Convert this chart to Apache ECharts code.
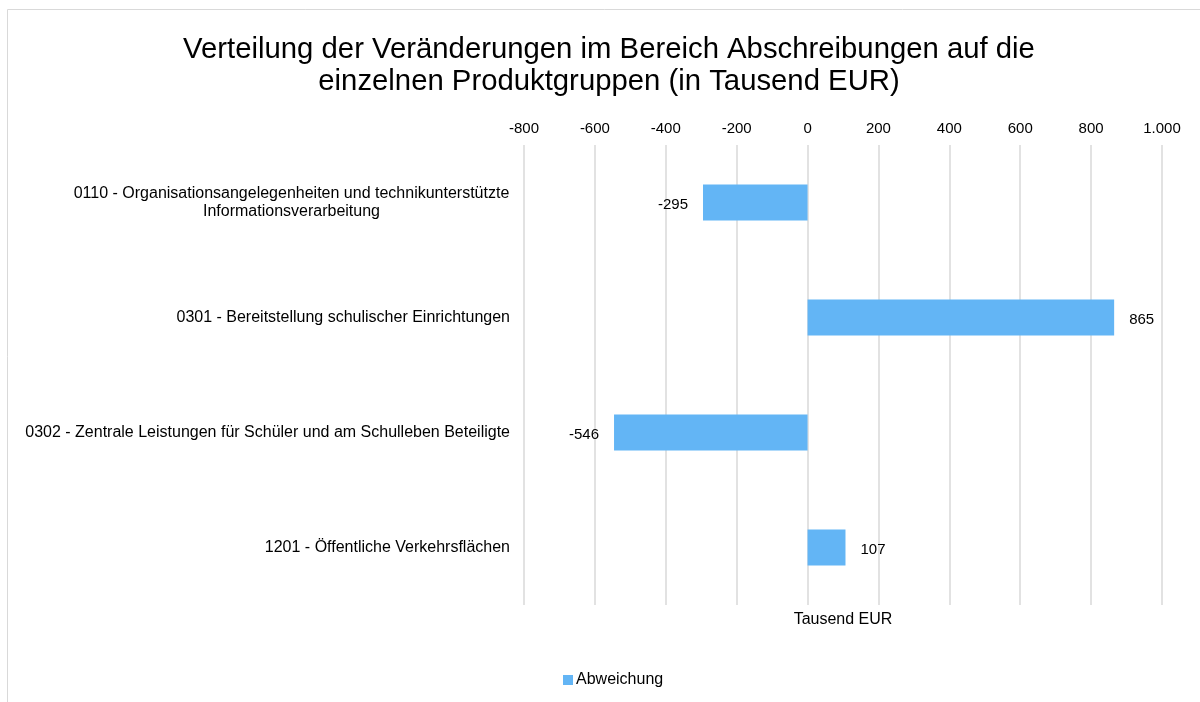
<!DOCTYPE html>
<html>
  <head>
    <meta charset="utf-8">
    <title>Abschreibungen</title>
    <script src="https://cdn.jsdelivr.net/npm/echarts@6/dist/echarts.min.js"></script>
    <style>
      html, body { margin: 0; padding: 0; background: #fff; }
      #main { width: 1200px; height: 702px; }
    </style>
  </head>
  <body>
    <div id="main"></div>
    <script type="text/javascript">
      // Daten
      var kategorien = [
        '0110 - Organisationsangelegenheiten und technikunterstützte\nInformationsverarbeitung',
        '0301 - Bereitstellung schulischer Einrichtungen',
        '0302 - Zentrale Leistungen für Schüler und am Schulleben Beteiligte',
        '1201 - Öffentliche Verkehrsflächen'
      ];
      var abweichung = [-295, 865, -546, 107];
      var achseMin = -800;
      var achseMax = 1000;
      var achseSchritt = 200;

      // deutsche Tausenderpunkte
      function fmt(v) {
        var s = String(Math.abs(v)).replace(/\B(?=(\d{3})+(?!\d))/g, '.');
        return (v < 0 ? '-' : '') + s;
      }

      var schrift = 'Liberation Sans, Arial, sans-serif';
      var myChart = echarts.init(document.getElementById('main'));

      myChart.setOption({
        animation: false,
        textStyle: { fontFamily: schrift, color: '#000' },
        title: {
          text: 'Verteilung der Veränderungen im Bereich Abschreibungen auf die\neinzelnen Produktgruppen (in Tausend EUR)',
          left: 609,
          top: 34,
          padding: 0,
          textAlign: 'center',
          textStyle: { fontSize: 29.3, fontWeight: 'normal', lineHeight: 32, color: '#000', fontFamily: schrift }
        },
        legend: {
          data: ['Abweichung'],
          left: 563,
          top: 672,
          padding: 0,
          icon: 'rect',
          itemWidth: 10,
          itemHeight: 10,
          textStyle: { fontSize: 16, color: '#000', padding: [0, 0, 0, -2] }
        },
        graphic: [{
          type: 'rect',
          shape: { x: 7.5, y: 9.5, width: 1400, height: 900 },
          style: { fill: 'none', stroke: '#d9d9d9', lineWidth: 1 },
          silent: true
        }],
        grid: { left: 524, right: 38, top: 145, bottom: 97 },
        xAxis: [{
          type: 'value',
          position: 'top',
          min: achseMin,
          max: achseMax,
          interval: achseSchritt,
          axisLine: { show: false },
          axisTick: { show: false },
          axisLabel: { fontSize: 15, color: '#000', margin: 9, formatter: fmt },
          splitLine: { lineStyle: { color: '#d9d9d9', width: 1.5 } }
        }, {
          type: 'value',
          position: 'bottom',
          min: achseMin,
          max: achseMax,
          name: 'Tausend EUR',
          nameLocation: 'middle',
          nameGap: 7,
          nameTextStyle: { fontSize: 16, color: '#000', verticalAlign: 'top' },
          axisLine: { show: false },
          axisTick: { show: false },
          axisLabel: { show: false },
          splitLine: { show: false }
        }],
        yAxis: {
          type: 'category',
          data: kategorien,
          inverse: true,
          axisLine: { show: false },
          axisTick: { show: false },
          axisLabel: {
            fontSize: 16,
            color: '#000',
            margin: 14,
            lineHeight: 18,
            formatter: function (val) {
              if (val.indexOf('\n') < 0) return val;
              return val.split('\n').map(function (z) { return '{c|' + z + '}'; }).join('\n');
            },
            rich: {
              c: { width: 437, align: 'center', fontSize: 16, lineHeight: 18, color: '#000' }
            }
          }
        },
        series: [{
          name: 'Abweichung',
          type: 'bar',
          barWidth: 36,
          itemStyle: { color: '#63b5f5' },
          data: abweichung.map(function (v) {
            return { value: v, label: { position: v < 0 ? 'left' : 'right' } };
          }),
          label: {
            show: true,
            distance: 15,
            fontSize: 15,
            color: '#000',
            offset: [0, 2],
            formatter: function (p) { return fmt(p.value); }
          }
        }]
      });
    </script>
  </body>
</html>
